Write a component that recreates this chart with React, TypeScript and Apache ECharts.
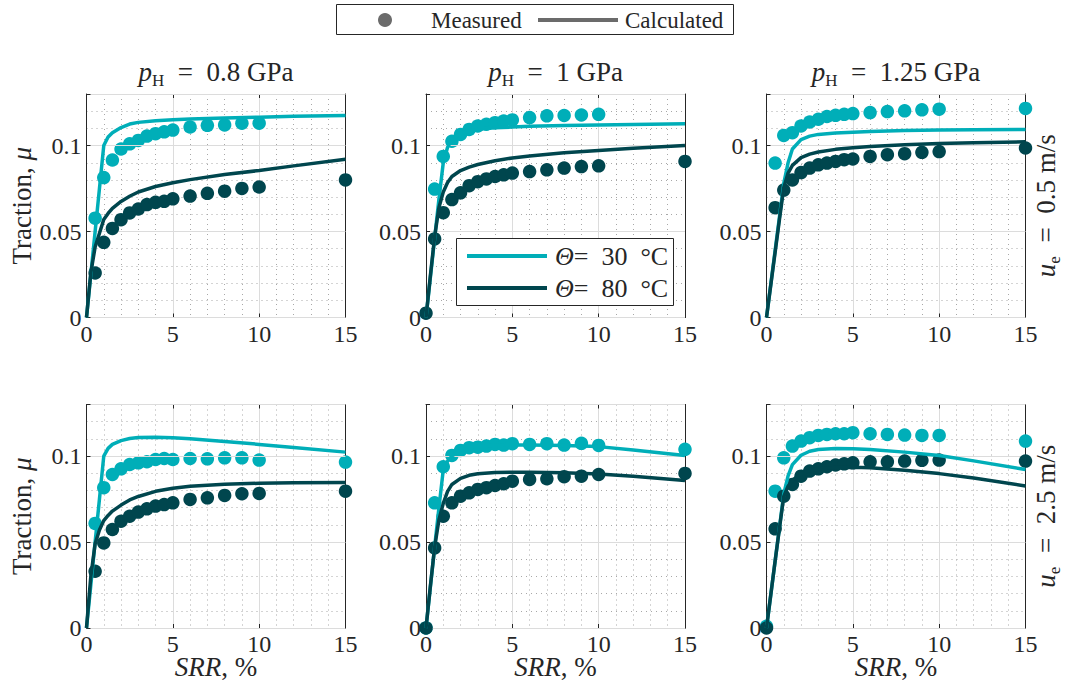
import React, { useEffect, useRef } from 'react';
import * as echarts from 'echarts';

// ---------- data ----------
const srrMeasured = [0, 0.5, 1, 1.5, 2, 2.5, 3, 3.5, 4, 4.5, 5, 6, 7, 8, 9, 10, 15];
const srrCalculated = [0, 0.25, 0.5, 0.75, 1, 1.25, 1.5, 2, 2.5, 3, 4, 5, 6, 8, 10, 12, 15];

const pressureLabels = ['0.8', '1', '1.25'];
const speedLabels = ['0.5', '2.5'];
const legendTemps = ['30', '80'];
const xTickInterval = 5;
const yTickInterval = 0.05;

// measured, u_e = 0.5 m/s
const meas30_p08_u05 = [null, 0.0578, 0.0814, 0.0916, 0.098, 0.101, 0.103, 0.1055, 0.1069, 0.108, 0.109, 0.1108, 0.1118, 0.112, 0.113, 0.113, null];
const meas80_p08_u05 = [null, 0.0259, 0.0437, 0.0518, 0.0569, 0.0608, 0.0631, 0.0657, 0.067, 0.0676, 0.069, 0.0706, 0.0722, 0.0735, 0.0751, 0.0759, 0.080];
const meas30_p10_u05 = [null, 0.0747, 0.0937, 0.1025, 0.1065, 0.1094, 0.1114, 0.1124, 0.1133, 0.1143, 0.1149, 0.1163, 0.1173, 0.1175, 0.1178, 0.1182, null];
const meas80_p10_u05 = [0.0025, 0.0457, 0.061, 0.0686, 0.0725, 0.0767, 0.079, 0.0806, 0.082, 0.083, 0.084, 0.0849, 0.0859, 0.0869, 0.0878, 0.0882, 0.0908];
const meas30_p125_u05 = [null, 0.0898, 0.1059, 0.1075, 0.1114, 0.1137, 0.1153, 0.1169, 0.1176, 0.1182, 0.1186, 0.1192, 0.1198, 0.1202, 0.1208, 0.1212, 0.1216];
const meas80_p125_u05 = [null, 0.0639, 0.0741, 0.08, 0.0843, 0.0869, 0.0888, 0.0898, 0.0908, 0.0918, 0.0922, 0.0937, 0.0947, 0.0953, 0.0961, 0.0965, 0.0986];
// measured, u_e = 2.5 m/s
const meas30_p08_u25 = [null, 0.0608, 0.0816, 0.0893, 0.0926, 0.0951, 0.0961, 0.0967, 0.098, 0.0986, 0.098, 0.0986, 0.0984, 0.099, 0.099, 0.0977, 0.0965];
const meas80_p08_u25 = [null, 0.033, 0.0495, 0.0573, 0.0621, 0.065, 0.0674, 0.0693, 0.0709, 0.0718, 0.0728, 0.0748, 0.0757, 0.0771, 0.0781, 0.0783, 0.0796];
const meas30_p10_u25 = [0, 0.0728, 0.0938, 0.1004, 0.1033, 0.1049, 0.1052, 0.1058, 0.1068, 0.1064, 0.1072, 0.1068, 0.1072, 0.1064, 0.1074, 0.1062, 0.1039];
const meas80_p10_u25 = [0, 0.0466, 0.065, 0.0728, 0.0767, 0.0786, 0.0806, 0.0816, 0.0829, 0.0839, 0.0854, 0.0864, 0.0868, 0.088, 0.0883, 0.0893, 0.0899];
const meas30_p125_u25 = [0.001, 0.0796, 0.099, 0.1058, 0.1087, 0.1107, 0.112, 0.1126, 0.113, 0.113, 0.1136, 0.113, 0.1126, 0.1122, 0.112, 0.112, 0.1087];
const meas80_p125_u25 = [0, 0.0577, 0.0767, 0.0835, 0.0883, 0.0913, 0.0926, 0.0938, 0.0948, 0.0955, 0.0961, 0.0967, 0.0967, 0.0971, 0.0975, 0.0977, 0.0971];

// calculated, u_e = 0.5 m/s
const calc30_p08_u05 = [0, 0.025, 0.05, 0.075, 0.1, 0.105, 0.1075, 0.1105, 0.1125, 0.1135, 0.1145, 0.115, 0.1155, 0.116, 0.1165, 0.117, 0.1175];
const calc80_p08_u05 = [0, 0.026, 0.041, 0.049, 0.057, 0.0605, 0.0635, 0.0675, 0.0705, 0.073, 0.0762, 0.0784, 0.0802, 0.0832, 0.0855, 0.0882, 0.092];
const calc30_p10_u05 = [0, 0.023, 0.046, 0.069, 0.09, 0.099, 0.1035, 0.107, 0.1085, 0.1095, 0.1103, 0.1108, 0.1112, 0.1117, 0.112, 0.1123, 0.1127];
const calc80_p10_u05 = [0, 0.024, 0.047, 0.064, 0.073, 0.0785, 0.082, 0.0855, 0.0875, 0.089, 0.0912, 0.0928, 0.094, 0.0958, 0.0972, 0.0985, 0.1];
const calc30_p125_u05 = [0, 0.0195, 0.039, 0.0585, 0.078, 0.09, 0.098, 0.1035, 0.1055, 0.1065, 0.1073, 0.1078, 0.1082, 0.1087, 0.109, 0.1092, 0.1094];
const calc80_p125_u05 = [0, 0.019, 0.038, 0.057, 0.0755, 0.084, 0.0885, 0.093, 0.095, 0.0963, 0.0978, 0.0988, 0.0995, 0.1005, 0.1012, 0.1017, 0.1022];
// calculated, u_e = 2.5 m/s
const calc30_p08_u25 = [0, 0.025, 0.05, 0.075, 0.1, 0.1045, 0.1068, 0.109, 0.1102, 0.1108, 0.111, 0.1107, 0.1101, 0.1085, 0.1068, 0.105, 0.1023];
const calc80_p08_u25 = [0, 0.03, 0.049, 0.057, 0.0625, 0.0655, 0.068, 0.0715, 0.0745, 0.0765, 0.0795, 0.0813, 0.0825, 0.0836, 0.0842, 0.0845, 0.0846];
const calc30_p10_u25 = [0, 0.0235, 0.047, 0.07, 0.092, 0.097, 0.1, 0.1033, 0.1048, 0.1056, 0.1063, 0.1065, 0.1065, 0.1062, 0.1055, 0.1035, 0.1003];
const calc80_p10_u25 = [0, 0.024, 0.047, 0.063, 0.0725, 0.0795, 0.0835, 0.087, 0.0888, 0.0897, 0.0904, 0.0906, 0.0906, 0.0903, 0.0896, 0.0882, 0.0858];
const calc30_p125_u25 = [0, 0.0195, 0.039, 0.0585, 0.078, 0.0885, 0.095, 0.1005, 0.1028, 0.1038, 0.1044, 0.1043, 0.1038, 0.1023, 0.1003, 0.0972, 0.0922];
const calc80_p125_u25 = [0, 0.0195, 0.039, 0.058, 0.0765, 0.0825, 0.086, 0.0897, 0.0915, 0.0925, 0.0934, 0.0935, 0.0932, 0.0918, 0.0898, 0.0873, 0.0826];

// ---------- styling ----------
const LIGHT = '#00AEB8';
const DARK = '#00464E';
const AXIS = '#262626';
const GRAY = '#6b6b6b';
const FONT = 'Liberation Serif';

const COL_LEFT = [86.5, 426, 766.5];
const ROW_TOP = [94, 404.5];
const PW = 259;
const PH = 223.5;

const panels = [
  { m30: meas30_p08_u05, m80: meas80_p08_u05, c30: calc30_p08_u05, c80: calc80_p08_u05 },
  { m30: meas30_p10_u05, m80: meas80_p10_u05, c30: calc30_p10_u05, c80: calc80_p10_u05 },
  { m30: meas30_p125_u05, m80: meas80_p125_u05, c30: calc30_p125_u05, c80: calc80_p125_u05 },
  { m30: meas30_p08_u25, m80: meas80_p08_u25, c30: calc30_p08_u25, c80: calc80_p08_u25 },
  { m30: meas30_p10_u25, m80: meas80_p10_u25, c30: calc30_p10_u25, c80: calc80_p10_u25 },
  { m30: meas30_p125_u25, m80: meas80_p125_u25, c30: calc30_p125_u25, c80: calc80_p125_u25 },
];

function pairs(xs: number[], ys: (number | null)[]) {
  const out: number[][] = [];
  xs.forEach((x, i) => {
    const y = ys[i];
    if (y !== null && y !== undefined) out.push([x, y]);
  });
  return out;
}

function buildOption() {
  const grid: any[] = [];
  const xAxis: any[] = [];
  const yAxis: any[] = [];
  const series: any[] = [];

  panels.forEach((p, g) => {
    const row = Math.floor(g / 3);
    const col = g % 3;
    grid.push({ left: COL_LEFT[col], top: ROW_TOP[row], width: PW, height: PH, containLabel: false });

    const tickIn = { show: true, inside: true, length: 4, lineStyle: { color: AXIS, width: 1 } };
    const line = { show: true, onZero: false, lineStyle: { color: AXIS, width: 1 } };

    xAxis.push({
      type: 'value', gridIndex: g, position: 'bottom', min: 0, max: 15, interval: xTickInterval,
      axisLine: line, axisTick: tickIn,
      axisLabel: { fontFamily: FONT, fontSize: 24, color: AXIS, margin: 4 },
      splitLine: { show: true, lineStyle: { color: '#dcdcdc', width: 1 } },
      minorTick: { show: false, splitNumber: 5 },
      minorSplitLine: { show: true, lineStyle: { color: '#a8a8a8', width: 1, type: [1, 4] } },
    });
    xAxis.push({
      type: 'value', gridIndex: g, position: 'top', min: 0, max: 15, interval: xTickInterval,
      axisLine: line, axisTick: tickIn, axisLabel: { show: false }, splitLine: { show: false },
    });

    yAxis.push({
      type: 'value', gridIndex: g, position: 'left', min: 0, max: 0.13, interval: yTickInterval,
      axisLine: line, axisTick: tickIn,
      axisLabel: {
        fontFamily: FONT, fontSize: 24, color: AXIS, margin: 5,
        formatter: (v: number) => (v > 0.125 ? '' : String(Math.round(v * 100) / 100)),
      },
      splitLine: { show: true, lineStyle: { color: '#dcdcdc', width: 1 } },
      z: 3,
    });
    yAxis.push({
      type: 'value', gridIndex: g, position: 'right', min: 0, max: 0.13, interval: yTickInterval,
      axisLine: line, axisTick: tickIn, axisLabel: { show: false }, splitLine: { show: false },
    });
    yAxis.push({
      type: 'value', gridIndex: g, position: 'left', min: 0, max: 0.13, interval: 0.01,
      axisLine: { show: false }, axisTick: { show: false }, axisLabel: { show: false },
      splitLine: { show: true, lineStyle: { color: '#a8a8a8', width: 1, type: [1, 4] } },
      z: 1,
    });

    const xi = 2 * g;
    const yi = 3 * g;
    series.push({
      type: 'scatter', xAxisIndex: xi, yAxisIndex: yi, symbol: 'circle', symbolSize: 13.5,
      itemStyle: { color: LIGHT, opacity: 1 }, data: pairs(srrMeasured, p.m30), z: 2,
    });
    series.push({
      type: 'scatter', xAxisIndex: xi, yAxisIndex: yi, symbol: 'circle', symbolSize: 13.5,
      itemStyle: { color: DARK, opacity: 1 }, data: pairs(srrMeasured, p.m80), z: 3,
    });
    series.push({
      type: 'line', xAxisIndex: xi, yAxisIndex: yi, showSymbol: false, symbol: 'none',
      lineStyle: { color: LIGHT, width: 3.5 }, data: pairs(srrCalculated, p.c30), z: 4,
    });
    series.push({
      type: 'line', xAxisIndex: xi, yAxisIndex: yi, showSymbol: false, symbol: 'none',
      lineStyle: { color: DARK, width: 3.5 }, data: pairs(srrCalculated, p.c80), z: 5,
    });
  });

  const graphic: any[] = [];
  const txt = (x: number, y: number, text: string, size: number, extra: any = {}, rot = 0) => ({
    type: 'text', x, y, rotation: rot, z: 100,
    style: {
      text, fill: AXIS, fontFamily: FONT, fontSize: size, align: 'center', verticalAlign: 'middle',
      ...extra,
    },
  });
  const subRich = (size: number) => ({
    i: { fontFamily: FONT, fontSize: size, fontStyle: 'italic', lineHeight: 34, fill: AXIS },
    s: { fontFamily: FONT, fontSize: 17, lineHeight: 14, verticalAlign: 'bottom', fill: AXIS },
    n: { fontFamily: FONT, fontSize: size, lineHeight: 34, fill: AXIS },
  });

  // titles
  pressureLabels.forEach((pl, c) => {
    graphic.push(txt(COL_LEFT[c] + PW / 2, 72, `{i|p}{s|H}{n|  =  ${pl} GPa}`, 27, { rich: subRich(27) }));
  });

  // y names and right labels
  speedLabels.forEach((sl, r) => {
    const cy = ROW_TOP[r] + PH / 2;
    graphic.push(txt(22, cy, '{n|Traction, }{i|μ}', 27, {
      rich: {
        n: { fontFamily: FONT, fontSize: 27, fill: AXIS },
        i: { fontFamily: FONT, fontSize: 27, fontStyle: 'italic', fill: AXIS },
      },
    }, Math.PI / 2));
    graphic.push(txt(1046, cy, `{i|u}{s|e}{n|  =  ${sl} m/s}`, 27, { rich: subRich(27) }, Math.PI / 2));
  });

  // x names
  COL_LEFT.forEach((l) => {
    graphic.push(txt(l + PW / 2, 667, '{i|SRR}{n|, %}', 27, {
      rich: {
        i: { fontFamily: FONT, fontSize: 27, fontStyle: 'italic', fill: AXIS },
        n: { fontFamily: FONT, fontSize: 27, fill: AXIS },
      },
    }));
  });

  // top legend
  graphic.push({ type: 'rect', z: 100, shape: { x: 336.5, y: 4.5, width: 397, height: 30 }, style: { fill: '#fff', stroke: AXIS, lineWidth: 1 } });
  graphic.push({ type: 'circle', z: 101, shape: { cx: 385, cy: 20, r: 7 }, style: { fill: GRAY } });
  graphic.push(txt(431, 20, 'Measured', 23, { align: 'left' }));
  graphic.push({ type: 'line', z: 101, shape: { x1: 538, y1: 20, x2: 618, y2: 20 }, style: { stroke: GRAY, lineWidth: 4 } });
  graphic.push(txt(625, 20, 'Calculated', 23, { align: 'left' }));

  // inner legend (panel p_H = 1 GPa, u_e = 0.5 m/s)
  graphic.push({ type: 'rect', z: 100, shape: { x: 456.5, y: 238.5, width: 217, height: 67 }, style: { fill: '#fff', stroke: AXIS, lineWidth: 1 } });
  [LIGHT, DARK].forEach((c, i) => {
    const y = 256 + i * 32;
    graphic.push({ type: 'line', z: 101, shape: { x1: 467, y1: y, x2: 547, y2: y }, style: { stroke: c, lineWidth: 4 } });
    graphic.push(txt(555, y, `{i|Θ}{n|=  ${legendTemps[i]}  °C}`, 26, {
      align: 'left',
      rich: {
        i: { fontFamily: FONT, fontSize: 26, fontStyle: 'italic', fill: AXIS },
        n: { fontFamily: FONT, fontSize: 26, fill: AXIS },
      },
    }));
  });

  return {
    animation: false,
    backgroundColor: '#ffffff',
    grid, xAxis, yAxis, series, graphic,
  };
}

export default function App() {
  const ref = useRef<HTMLDivElement>(null);
  useEffect(() => {
    if (!ref.current) return;
    const chart = echarts.init(ref.current, undefined, { renderer: 'svg' });
    chart.setOption(buildOption() as any);
    return () => chart.dispose();
  }, []);
  return <div ref={ref} style={{ position: 'fixed', left: 0, top: 0, width: 1069, height: 684 }} />;
}
